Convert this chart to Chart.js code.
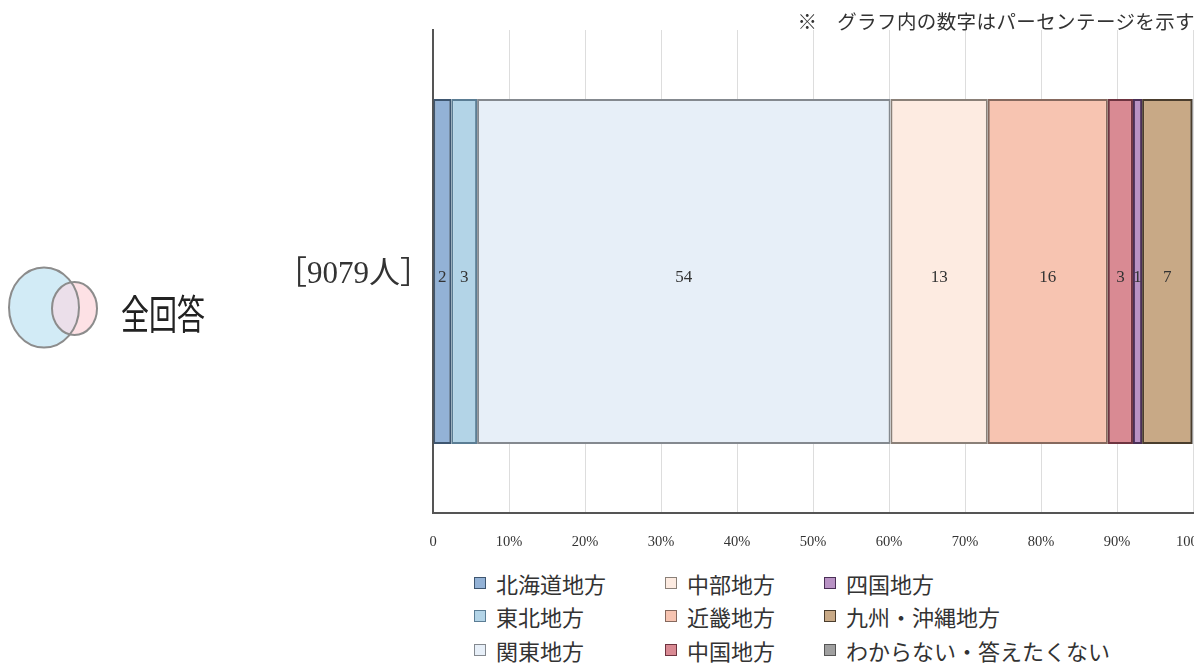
<!DOCTYPE html>
<html>
<head>
<meta charset="utf-8">
<script src="https://cdn.jsdelivr.net/npm/chart.js@4/dist/chart.umd.min.js"></script>
<style>
body { margin:0; background:#fff; width:1204px; height:669px; overflow:hidden; position:relative;
       font-family:"Liberation Serif","Noto Sans CJK JP",serif; color:#333; }
#wrap { position:absolute; left:0; top:0; width:1194px; height:560px; }
#note { position:absolute; right:9px; top:6px; font-size:19.5px; letter-spacing:0.4px; }
#venn { position:absolute; left:0; top:258px; }
#group { position:absolute; left:121px; top:292px; font-family:"Noto Sans CJK JP",sans-serif; font-size:40px;
         line-height:40px; transform:scaleX(0.7); transform-origin:left top; color:#222; }
#legend { position:absolute; left:474px; top:566px; display:grid; grid-auto-flow:column;
          grid-template-columns:191px 159px 320px; grid-template-rows:repeat(3,33.5px); }
.item { display:flex; align-items:center; font-size:22px; white-space:nowrap; }
.box { width:10px; height:10px; border:1.5px solid; margin-right:10px; }
</style>
</head>
<body>
<div id="wrap"><canvas id="chart" width="1194" height="560"></canvas></div>
<div id="note">※　グラフ内の数字はパーセンテージを示す</div>
<svg id="venn" width="110" height="100">
  <defs><clipPath id="bigClip"><ellipse cx="44" cy="49.5" rx="35" ry="40"/></clipPath></defs>
  <ellipse cx="44" cy="49.5" rx="35" ry="40" fill="#d2ebf6"/>
  <ellipse cx="74.5" cy="50.5" rx="22.5" ry="26.5" fill="#fde1e5"/>
  <ellipse cx="74.5" cy="50.5" rx="22.5" ry="26.5" fill="#ebdfea" clip-path="url(#bigClip)"/>
  <ellipse cx="44" cy="49.5" rx="35" ry="40" fill="none" stroke="#8c8c8c" stroke-width="2"/>
  <ellipse cx="74.5" cy="50.5" rx="22.5" ry="26.5" fill="none" stroke="#8c8c8c" stroke-width="2"/>
</svg>
<div id="group">全回答</div>
<div id="legend"></div>
<script>
// respondents per region, percent of all answers
var categories = ['［9079人］'];
var regions = ['北海道地方', '東北地方', '関東地方', '中部地方', '近畿地方', '中国地方', '四国地方', '九州・沖縄地方', 'わからない・答えたくない'];
var shares = [2.4, 3.4, 54.4, 12.8, 15.8, 3.3, 1.2, 6.6, 0.1];
var tickLabels = ['0', '10%', '20%', '30%', '40%', '50%', '60%', '70%', '80%', '90%', '100%'];

var fills = ['#93b2d6', '#b3d4e7', '#e7eff8', '#fdebe1', '#f7c4b1', '#d98a93', '#b892c4', '#c8a986', '#a0a0a0'];
var edges = ['#3e5670', '#5b7d94', '#84898f', '#8a8078', '#86695e', '#6e3440', '#4a2f56', '#4a3d2d', '#555555'];

var ctx = document.getElementById('chart');

// numbers inside each segment
var barLabels = {
    id: 'barLabels',
    afterDatasetsDraw: function(chart) {
        var c = chart.ctx;
        c.save();
        c.font = '17px "Liberation Serif"';
        c.fillStyle = '#333';
        c.textAlign = 'center';
        c.textBaseline = 'middle';
        chart.data.datasets.forEach(function(ds, i) {
            var v = ds.data[0];
            if (v < 0.5) return;
            var el = chart.getDatasetMeta(i).data[0];
            c.fillText(Math.round(v), (el.x + el.base) / 2, el.y + 6);
        });
        c.restore();
    }
};

var datasets = regions.map(function(name, i) {
    return {
        label: name,
        data: [shares[i]],
        backgroundColor: fills[i],
        borderColor: edges[i],
        borderWidth: 2,
        borderSkipped: false,
        barPercentage: 0.714,
        categoryPercentage: 1
    };
});

var myChart = new Chart(ctx, {
    type: 'bar',
    data: { labels: categories, datasets: datasets },
    plugins: [barLabels],
    options: {
        responsive: false,
        animation: false,
        indexAxis: 'y',
        layout: { padding: { top: 30, right: 1, left: 0, bottom: 0 } },
        plugins: { legend: { display: false }, tooltip: { enabled: false } },
        scales: {
            x: {
                stacked: true,
                min: 0,
                max: 100,
                grid: { color: '#dddddd', lineWidth: 1, drawTicks: false },
                border: { color: '#555', width: 2 },
                ticks: {
                    stepSize: 10,
                    autoSkip: false,
                    maxRotation: 0,
                    padding: 20,
                    color: '#333',
                    font: { family: 'Liberation Serif', size: 14.5 },
                    callback: function(v, i) { return tickLabels[i]; }
                },
                afterFit: function(s) { s.height = 47; s.paddingLeft = 0; s.paddingRight = 0; }
            },
            y: {
                stacked: true,
                grid: { display: false, drawTicks: false },
                border: { color: '#555', width: 2 },
                ticks: {
                    padding: 2,
                    labelOffset: 3,
                    color: '#333',
                    font: { family: '"Liberation Serif", "Noto Sans CJK JP"', size: 31 }
                },
                afterFit: function(s) { s.width = 433; }
            }
        }
    }
});

// legend laid out in columns
var legend = document.getElementById('legend');
regions.forEach(function(name, i) {
    var item = document.createElement('div');
    item.className = 'item';
    item.innerHTML = '<span class="box" style="background:' + fills[i] + ';border-color:' + edges[i] + '"></span>' + name;
    legend.appendChild(item);
});
</script>
</body>
</html>
